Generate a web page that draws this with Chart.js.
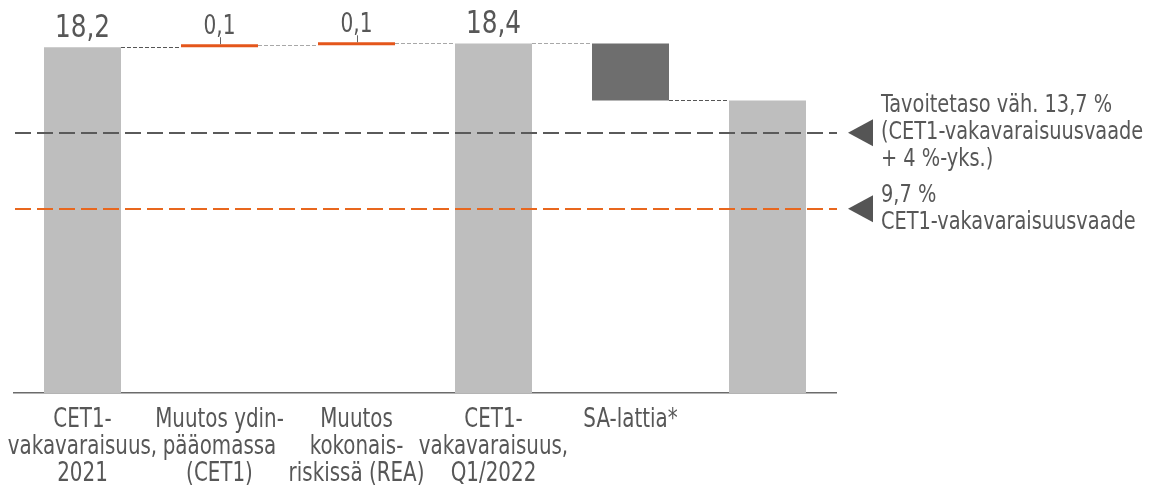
<!DOCTYPE html>
<html>
<head>
<meta charset="utf-8">
<script src="https://cdn.jsdelivr.net/npm/chart.js@4.4.1/dist/chart.umd.min.js"></script>
<style>
  html, body { margin: 0; padding: 0; background: #fff; }
  canvas { display: block; }
</style>
</head>
<body>
<canvas id="chart" width="1157" height="487"></canvas>
<script>
// Data
const categories = [
    ['CET1-', 'vakavaraisuus,', '2021'],
    ['Muutos ydin-', 'pääomassa', '(CET1)'],
    ['Muutos', 'kokonais-', 'riskissä (REA)'],
    ['CET1-', 'vakavaraisuus,', 'Q1/2022'],
    ['SA-lattia*'],
    ''
];
const changes     = [18.2, 0.1, 0.1, 18.4, -3.0, 15.4];
const isTotal     = [true, false, false, true, false, true];
const valueLabels = ['18,2', '0,1', '0,1', '18,4', '', ''];
const targetLevels = [13.7, 9.7];
const targetTexts  = [
    ['Tavoitetaso väh. 13,7 %', '(CET1-vakavaraisuusvaade', '+ 4 %-yks.)'],
    ['9,7 %', 'CET1-vakavaraisuusvaade']
];

// Styles
const FONT = "'DejaVu Sans Condensed', 'DejaVu Sans', sans-serif";
const TEXT = '#575757';
const barColors       = ['#bebebe', '#e4561b', '#e4561b', '#bebebe', '#6e6e6e', '#bebebe'];
const connectorColors = ['#555555', '#a8a8a8', '#a8a8a8', '#a8a8a8', '#555555'];
const targetColors    = ['#5a5a5a', '#e8671e'];

// waterfall ranges built from the changes
const ranges = [];
let running = 0;
changes.forEach((v, i) => {
    if (isTotal[i]) { ranges.push([0, v]); running = v; }
    else { ranges.push([running, running + v]); running += v; }
});

// reference font is narrower than anything installed, so squeeze it a bit
function narrowText(ctx, text, x, y, sx) {
    ctx.save();
    ctx.translate(x, y);
    ctx.scale(sx, 1);
    ctx.fillText(text, 0, 0);
    ctx.restore();
}

const extras = {
    id: 'extras',
    afterDatasetsDraw(chart) {
        const { ctx, chartArea, scales: { x, y } } = chart;
        const bars = chart.getDatasetMeta(0).data;
        ctx.save();

        // connectors between bars
        ctx.lineWidth = 1;
        ctx.setLineDash([4, 2]);
        for (let i = 0; i < bars.length - 1; i++) {
            const yy = Math.round(y.getPixelForValue(ranges[i][1])) + 0.5;
            ctx.strokeStyle = connectorColors[i];
            ctx.beginPath();
            ctx.moveTo(bars[i].x + bars[i].width / 2, yy);
            ctx.lineTo(bars[i + 1].x - bars[i + 1].width / 2, yy);
            ctx.stroke();
        }

        // target lines, arrows and notes
        ctx.lineWidth = 2;
        ctx.setLineDash([16, 6]);
        targetLevels.forEach((lv, k) => {
            const yy = Math.round(y.getPixelForValue(lv));
            ctx.strokeStyle = targetColors[k];
            ctx.beginPath();
            ctx.moveTo(chartArea.left + 1, yy);
            ctx.lineTo(chartArea.right + 1, yy);
            ctx.stroke();
        });
        ctx.setLineDash([]);
        targetLevels.forEach((lv, k) => {
            const yy = y.getPixelForValue(lv);
            const ax = chartArea.right + 12;
            ctx.fillStyle = '#555555';
            ctx.beginPath();
            ctx.moveTo(ax, yy);
            ctx.lineTo(ax + 25, yy - 13.5);
            ctx.lineTo(ax + 25, yy + 13.5);
            ctx.closePath();
            ctx.fill();

            const lines = targetTexts[k];
            const lh = 27;
            const start = yy - (lines.length - 1) * lh / 2;
            ctx.fillStyle = TEXT;
            ctx.font = '25px ' + FONT;
            ctx.textAlign = 'left';
            ctx.textBaseline = 'middle';
            lines.forEach((t, j) => narrowText(ctx, t, ax + 33, start + j * lh, 0.86));
        });

        // value labels
        ctx.textAlign = 'center';
        ctx.textBaseline = 'alphabetic';
        bars.forEach((b, i) => {
            if (!valueLabels[i]) return;
            const top = Math.min(b.y, b.base);
            ctx.fillStyle = TEXT;
            ctx.font = (isTotal[i] ? '32px ' : '26px ') + FONT;
            narrowText(ctx, valueLabels[i], b.x, top - 10, 0.86);
            if (!isTotal[i]) {
                ctx.strokeStyle = '#666666';
                ctx.lineWidth = 1;
                ctx.beginPath();
                ctx.moveTo(Math.round(b.x) + 0.5, top - 7);
                ctx.lineTo(Math.round(b.x) + 0.5, top);
                ctx.stroke();
            }
        });

        // category labels under the axis
        ctx.font = '26px ' + FONT;
        ctx.fillStyle = TEXT;
        categories.forEach((lab, i) => {
            const lines = Array.isArray(lab) ? lab : [lab];
            const cx = x.getPixelForTick(i);
            lines.forEach((t, j) => narrowText(ctx, t, cx, chartArea.bottom + 34 + j * 27, 0.85));
        });
        ctx.restore();
    }
};

new Chart(document.getElementById('chart'), {
    type: 'bar',
    data: {
        labels: categories,
        datasets: [{
            data: ranges,
            backgroundColor: barColors,
            borderWidth: 0,
            minBarLength: 3,
            barPercentage: 0.562,
            categoryPercentage: 1
        }]
    },
    options: {
        responsive: false,
        animation: false,
        devicePixelRatio: 1,
        layout: { padding: { left: 14, right: 321, top: 13, bottom: 0 } },
        plugins: { legend: { display: false }, tooltip: { enabled: false } },
        scales: {
            x: {
                afterFit: s => { s.height = 94; s.paddingLeft = 0; s.paddingRight = 0; },
                grid: { display: true, drawOnChartArea: false, drawTicks: false, color: 'rgba(0,0,0,0)' },
                border: { display: true, color: '#6b6b6b', width: 1.5 },
                ticks: { display: false }
            },
            y: { display: false, min: 0, max: 20 }
        }
    },
    plugins: [extras]
});
</script>
</body>
</html>
